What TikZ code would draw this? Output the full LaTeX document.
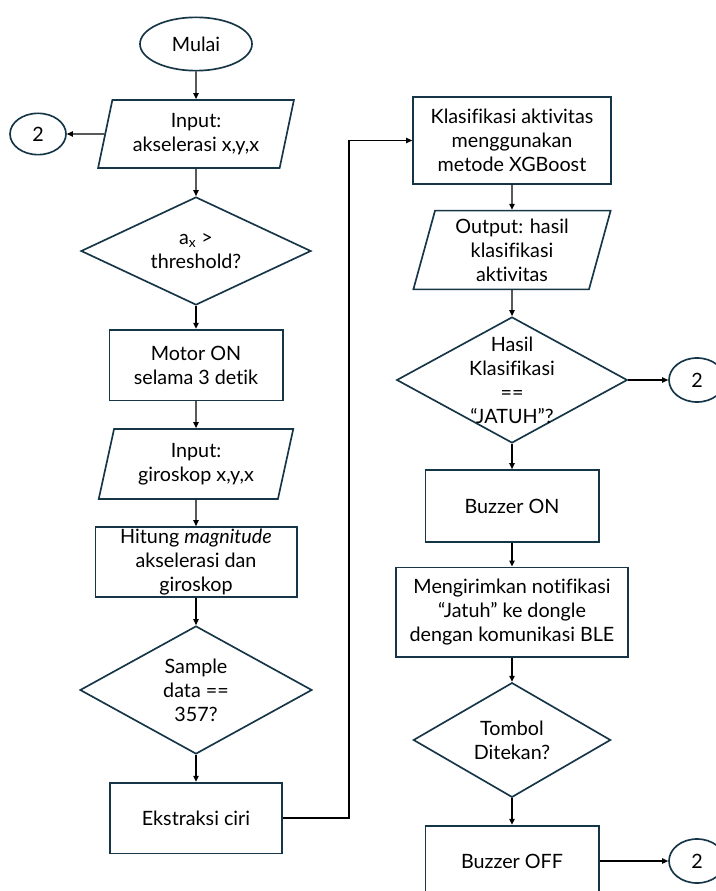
\documentclass[tikz,border=0pt]{standalone}
\usepackage{fontspec}
\setmainfont{Lato}[Ligatures=NoCommon]
\usetikzlibrary{shapes.geometric,arrows.meta}
\definecolor{outline}{RGB}{22,54,72}
\tikzset{
	base/.style={draw=outline, line width=1.25pt, align=center, inner sep=1pt, text=black, font=\fontsize{14.8}{18}\selectfont},
	terminal/.style={base, ellipse, minimum width=84pt, minimum height=40pt},
	connector/.style={base, ellipse, minimum width=42pt, minimum height=31pt},
	process/.style={base, rectangle},
	io/.style={base, trapezium, trapezium left angle=76, trapezium right angle=104, trapezium stretches=true},
	decision/.style={base, diamond, aspect=1.8, inner sep=-14pt},
	flow/.style={-{Triangle[length=4.5pt,width=4pt]}, line width=1pt, black},
}
\begin{document}
\begin{tikzpicture}[x=0.75pt,y=-0.75pt]
	\useasboundingbox (0,0) rectangle (716,891);
	% left column
	\node[terminal] (start) at (196,44) {Mulai};
	\node[io, minimum width=147pt, minimum height=51pt] (inacc) at (196,134) {Input:\\akselerasi x,y,x};
	\node[connector] (conA) at (38,134) {2};
	\node[decision, minimum width=172.5pt, minimum height=81pt] (thresh) at (196,251) {a\textsubscript{x} >\\threshold?};
	\node[process, minimum width=130pt, minimum height=53pt] (motor) at (196,365) {Motor ON\\selama 3 detik};
	\node[io, minimum width=146pt, minimum height=52.5pt] (ingyro) at (196,464) {Input:\\giroskop x,y,x};
	\node[process, minimum width=151pt, minimum height=52.5pt] (magn) at (196,562) {Hitung \textit{magnitude}\\akselerasi dan\\giroskop};
	\node[decision, minimum width=174pt, minimum height=96pt] (sample) at (196,690) {Sample\\data ==\\357?};
	\node[process, minimum width=129pt, minimum height=53pt] (feat) at (196,818) {Ekstraksi ciri};
	\coordinate (turn) at (349,818);
	% right column
	\node[process, minimum width=148.5pt, minimum height=65pt] (xgb) at (512,140.5) {Klasifikasi aktivitas\\menggunakan\\metode XGBoost};
	\node[io, minimum width=148pt, minimum height=59pt] (outcls) at (512,250) {Output: hasil\\klasifikasi\\aktivitas};
	\node[decision, minimum width=173pt, minimum height=94.5pt] (fall) at (512,380) {Hasil\\Klasifikasi\\==\\“JATUH”?};
	\node[connector, minimum height=33pt] (conB) at (697,380) {2};
	\node[process, minimum width=130pt, minimum height=54pt] (buzon) at (512,506) {Buzzer ON};
	\node[process, minimum width=174pt, minimum height=67pt] (notif) at (512,612) {Mengirimkan notifikasi\\“Jatuh” ke dongle\\dengan komunikasi BLE};
	\node[decision, minimum width=148pt, minimum height=86pt] (button) at (512,740) {Tombol\\Ditekan?};
	\node[process, minimum width=130pt, minimum height=53pt] (buzoff) at (512,861) {Buzzer OFF};
	\node[connector, minimum height=33pt] (conC) at (697,861) {2};

	\path [flow] (start) edge (inacc);
	\path [flow] (inacc) edge (conA);
	\path [flow] (inacc) edge (thresh);
	\path [flow] (thresh) edge (motor);
	\path [flow] (motor) edge (ingyro);
	\path [flow] (ingyro) edge (magn);
	\path [flow] (magn) edge (sample);
	\path [flow] (sample) edge (feat);
	\draw [flow] (feat) -- (turn) |- (xgb);
	\path [flow] (xgb) edge (outcls);
	\path [flow] (outcls) edge (fall);
	\path [flow] (fall) edge (conB);
	\path [flow] (fall) edge (buzon);
	\path [flow] (buzon) edge (notif);
	\path [flow] (notif) edge (button);
	\path [flow] (button) edge (buzoff);
	\path [flow] (buzoff) edge (conC);
\end{tikzpicture}
\end{document}
